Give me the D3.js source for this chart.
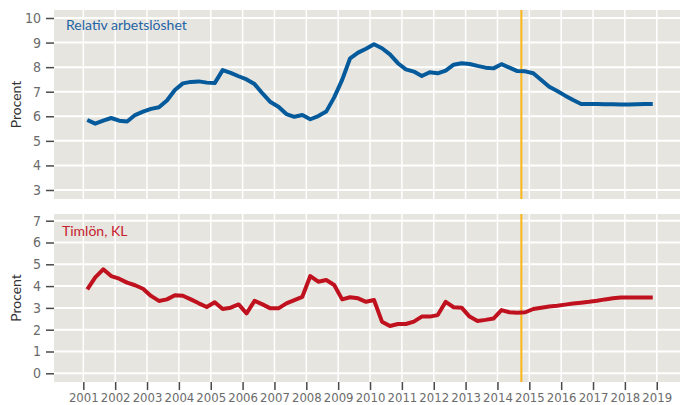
<!DOCTYPE html>
<html>
<head>
<meta charset="utf-8">
<script src="https://cdn.jsdelivr.net/npm/d3@7"></script>
<style>
  body { margin: 0; background: #fff; }
  .tick text { font-family: "Liberation Sans Narrow", "DejaVu Sans Condensed", sans-serif; font-size: 13px; fill: #6b6b6b; }
  .yaxis .tick text { font-size: 14px; }
  .tick line { stroke: #4a4a4a; stroke-width: 1.5; }
  .ylab, .title { font-family: Lato, "Open Sans", sans-serif; }
</style>
</head>
<body>
<div id="chart"></div>
<script>
const years = d3.range(2001, 2019)
const quarters = years.flatMap(y => [1, 2, 3, 4].map(q => ({ year: y, q: q })))
const xTickYears = d3.range(2001, 2020)

// relativ arbetslöshet, procent, kvartal 2001K1 - 2018K4
const arbetsloshet = [
  5.85, 5.70, 5.82, 5.93, 5.82, 5.79, 6.05, 6.19, 6.30, 6.37, 6.64, 7.07, 7.34, 7.40, 7.42, 7.37, 7.35, 7.88, 7.77, 7.63,
  7.50, 7.31, 6.93, 6.58, 6.39, 6.09, 5.98, 6.05, 5.88, 6.01, 6.19, 6.77, 7.48, 8.36, 8.59, 8.75, 8.93, 8.77, 8.52, 8.16,
  7.91, 7.82, 7.64, 7.79, 7.75, 7.86, 8.10, 8.16, 8.13, 8.05, 7.98, 7.95, 8.12, 7.98, 7.84, 7.83, 7.75, 7.48, 7.20, 7.03,
  6.84, 6.66, 6.50, 6.50, 6.50, 6.49, 6.49, 6.48, 6.48, 6.49, 6.50, 6.50
]

// timlön KL, procent
const timlon = [
  3.85, 4.40, 4.77, 4.46, 4.34, 4.16, 4.04, 3.88, 3.55, 3.32, 3.39, 3.58, 3.56, 3.39, 3.21, 3.04, 3.26, 2.95, 3.01, 3.16,
  2.75, 3.32, 3.16, 2.98, 2.98, 3.21, 3.36, 3.51, 4.46, 4.20, 4.28, 4.05, 3.39, 3.49, 3.44, 3.28, 3.36, 2.37, 2.17, 2.26,
  2.26, 2.37, 2.60, 2.60, 2.67, 3.28, 3.03, 3.01, 2.60, 2.40, 2.45, 2.51, 2.90, 2.80, 2.78, 2.80, 2.95, 3.01, 3.06, 3.10,
  3.15, 3.20, 3.24, 3.28, 3.33, 3.39, 3.44, 3.48, 3.48, 3.48, 3.48, 3.48
]

const prognosStart = 2014.75
const topTicks = [3, 4, 5, 6, 7, 8, 9, 10]
const bottomTicks = [0, 1, 2, 3, 4, 5, 6, 7]

const W = 680, H = 405
const svg = d3.select('#chart').append('svg')
  .attr('width', W).attr('height', H)

const x = d3.scaleLinear().domain([2000.08, 2019.73]).range([54, 680])
const qx = d => x(d.year + (d.q - 0.5) / 4)

function panel(cfg) {
  const y = d3.scaleLinear().domain(cfg.domain).range(cfg.range)
  const g = svg.append('g')

  g.append('rect')
    .attr('x', 54).attr('y', cfg.top)
    .attr('width', 626).attr('height', cfg.bottom - cfg.top)
    .attr('fill', '#e6e5df')

  g.selectAll('.hg').data(cfg.ticks).enter().append('line')
    .attr('x1', 54).attr('x2', 680)
    .attr('y1', d => y(d)).attr('y2', d => y(d))
    .attr('stroke', '#fff').attr('stroke-width', 2)

  g.selectAll('.vg').data(xTickYears).enter().append('line')
    .attr('x1', d => x(d)).attr('x2', d => x(d))
    .attr('y1', cfg.top).attr('y2', cfg.bottom)
    .attr('stroke', '#fff').attr('stroke-width', 1.5)

  const yAxis = g.append('g')
    .attr('class', 'yaxis')
    .attr('transform', 'translate(54,0)')
    .call(d3.axisLeft(y).tickValues(cfg.ticks).tickFormat(d3.format('d')).tickSize(8).tickPadding(5))
  yAxis.select('.domain').remove()

  g.append('line')
    .attr('x1', x(prognosStart)).attr('x2', x(prognosStart))
    .attr('y1', cfg.top).attr('y2', cfg.bottom)
    .attr('stroke', '#fbb617').attr('stroke-width', 2)

  const line = d3.line()
    .x((d, i) => qx(quarters[i]))
    .y(d => y(d))

  g.append('path')
    .datum(cfg.values)
    .attr('d', line)
    .attr('fill', 'none')
    .attr('stroke', cfg.color)
    .attr('stroke-width', 4)
    .attr('stroke-linejoin', 'round')

  g.append('text')
    .attr('class', 'title')
    .attr('x', cfg.titleX).attr('y', cfg.titleY)
    .attr('fill', cfg.titleColor)
    .style('font-size', '14px')
    .text(cfg.title)

  const cy = (cfg.top + cfg.bottom) / 2
  g.append('text')
    .attr('class', 'ylab')
    .attr('transform', `translate(21,${cy}) rotate(-90)`)
    .attr('text-anchor', 'middle')
    .attr('fill', '#333')
    .style('font-size', '14px')
    .text('Procent')
}

panel({
  top: 10, bottom: 199, domain: [3, 10], range: [190, 18], ticks: topTicks,
  values: arbetsloshet, color: '#045a9b',
  title: 'Relativ arbetslöshet', titleColor: '#1f64a5', titleX: 66, titleY: 30
})

panel({
  top: 214, bottom: 382, domain: [0, 7], range: [373.3, 220.7], ticks: bottomTicks,
  values: timlon, color: '#c0111f',
  title: 'Timlön, KL', titleColor: '#c6202e', titleX: 62, titleY: 236
})

const xAxis = svg.append('g')
  .attr('transform', 'translate(0,382)')
  .call(d3.axisBottom(x).tickValues(xTickYears).tickFormat(d3.format('d')).tickSize(8).tickPadding(3))
xAxis.select('.domain').remove()
</script>
</body>
</html>
